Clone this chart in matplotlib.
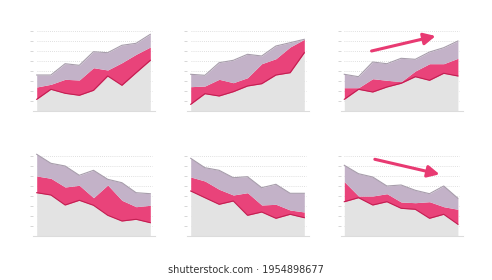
import numpy as np
import matplotlib
matplotlib.use('Agg')
import matplotlib.pyplot as plt

# x positions of the points (same for every panel)
steps = list(range(9))

# upper edge of each stacked layer, panel by panel (grid units)
gray_tops = [
    [1.17, 2.17, 1.77, 1.57, 2.07, 3.50, 2.57, 3.83, 5.07],
    [0.67, 1.73, 1.50, 1.93, 2.50, 2.73, 3.60, 3.83, 5.83],
    [1.17, 2.17, 1.90, 2.40, 2.77, 3.43, 3.07, 3.77, 3.50],
    [4.33, 4.10, 3.10, 3.57, 3.07, 2.07, 1.50, 1.67, 1.33],
    [4.50, 3.83, 3.17, 3.50, 2.07, 2.40, 1.77, 2.17, 1.83],
    [3.43, 3.83, 3.10, 3.43, 2.77, 2.67, 1.77, 2.17, 1.17],
]
pink_tops = [
    [2.40, 2.67, 3.17, 3.10, 4.33, 4.10, 4.83, 5.67, 6.40],
    [2.43, 2.50, 3.17, 2.83, 3.33, 4.73, 5.23, 6.40, 7.17],
    [2.33, 2.33, 3.23, 3.07, 2.93, 4.00, 4.73, 4.73, 5.27],
    [6.00, 5.77, 4.90, 5.07, 3.83, 5.10, 3.57, 2.93, 3.07],
    [5.90, 5.50, 4.67, 4.10, 4.33, 3.10, 3.17, 2.60, 2.40],
    [5.43, 4.00, 4.00, 4.23, 3.40, 3.33, 3.43, 2.93, 2.67],
]
purple_tops = [
    [3.60, 3.60, 4.73, 4.57, 5.93, 5.83, 6.57, 6.77, 7.67],
    [3.67, 3.57, 4.83, 5.07, 5.67, 5.50, 6.50, 6.83, 7.17],
    [3.67, 3.43, 4.90, 4.73, 5.27, 5.17, 5.90, 6.33, 7.00],
    [8.17, 7.27, 7.00, 6.07, 6.57, 5.67, 5.33, 4.33, 4.23],
    [7.77, 6.83, 6.57, 5.83, 5.93, 4.83, 5.17, 4.27, 4.27],
    [7.07, 6.23, 5.90, 5.00, 5.10, 4.57, 4.23, 5.00, 3.77],
]
# trend arrows: panel index -> (x0, y0, x1, y1)
arrows = {
    2: (1.92, 6.0, 6.43, 7.5),
    5: (2.15, 7.67, 6.71, 6.17),
}
grid_levels = [1, 2, 3, 4, 5, 6, 7, 8]

GRAY = '#e3e3e3'
PINK = '#e9437a'
PINK_EDGE = '#c21f52'
PURPLE = '#c3b2c8'
PURPLE_EDGE = '#a79dab'
GRID = '#d6d6d6'

W, H = 492, 280
fig = plt.figure(figsize=(W / 100, H / 100), dpi=100)

# data x=0 pixel position and baseline pixel for each panel
x0_px = [36.7, 190.7, 344.3]
base_px = [111.0, 236.0]
unit_x = 14.2
unit_y = 10.0
xlim = (-0.25, 8.35)
ylim = (0, 8.6)

for i in range(6):
    row, col = divmod(i, 3)
    left = x0_px[col] + xlim[0] * unit_x
    width = (xlim[1] - xlim[0]) * unit_x
    height = (ylim[1] - ylim[0]) * unit_y
    bottom = H - base_px[row]
    ax = fig.add_axes([left / W, bottom / H, width / W, height / H])
    ax.set_xlim(*xlim)
    ax.set_ylim(*ylim)

    g = np.array(gray_tops[i])
    p = np.array(pink_tops[i])
    u = np.array(purple_tops[i])

    ax.hlines(grid_levels, 0, 8.1, colors=GRID, linestyles=(0, (1, 1.5)), linewidth=0.6, zorder=0)
    ax.fill_between(steps, 0, g, color=GRAY, linewidth=0, zorder=1)
    ax.fill_between(steps, g, p, color=PINK, linewidth=0, zorder=1)
    ax.fill_between(steps, p, u, color=PURPLE, linewidth=0, zorder=1)
    ax.plot(steps, g, color=PINK_EDGE, linewidth=0.8, zorder=2)
    ax.plot(steps, u, color=PURPLE_EDGE, linewidth=0.8, zorder=2)

    if i in arrows:
        ax0, ay0, ax1, ay1 = arrows[i]
        ax.annotate('', xy=(ax1, ay1), xytext=(ax0, ay0),
                    arrowprops=dict(arrowstyle='-|>,head_length=0.7,head_width=0.35',
                                    color='#e83a72', linewidth=2.2, shrinkA=0, shrinkB=0),
                    zorder=3)

    for s in ['top', 'right', 'left']:
        ax.spines[s].set_visible(False)
    ax.spines['bottom'].set_color('#dcdcdc')
    ax.spines['bottom'].set_linewidth(0.8)
    ax.set_xticks([])
    ax.set_yticks(grid_levels)
    ax.set_yticklabels([])
    ax.tick_params(axis='y', length=2, width=0.6, color='#d0d0d0', direction='out')
    ax.patch.set_alpha(0)

fig.text(0.5, (H - 270) / H, 'shutterstock.com \u00b7 1954898677', ha='center', va='center',
         fontsize=7, color='#333333')

fig.savefig('out.png', dpi=100, facecolor='white')
